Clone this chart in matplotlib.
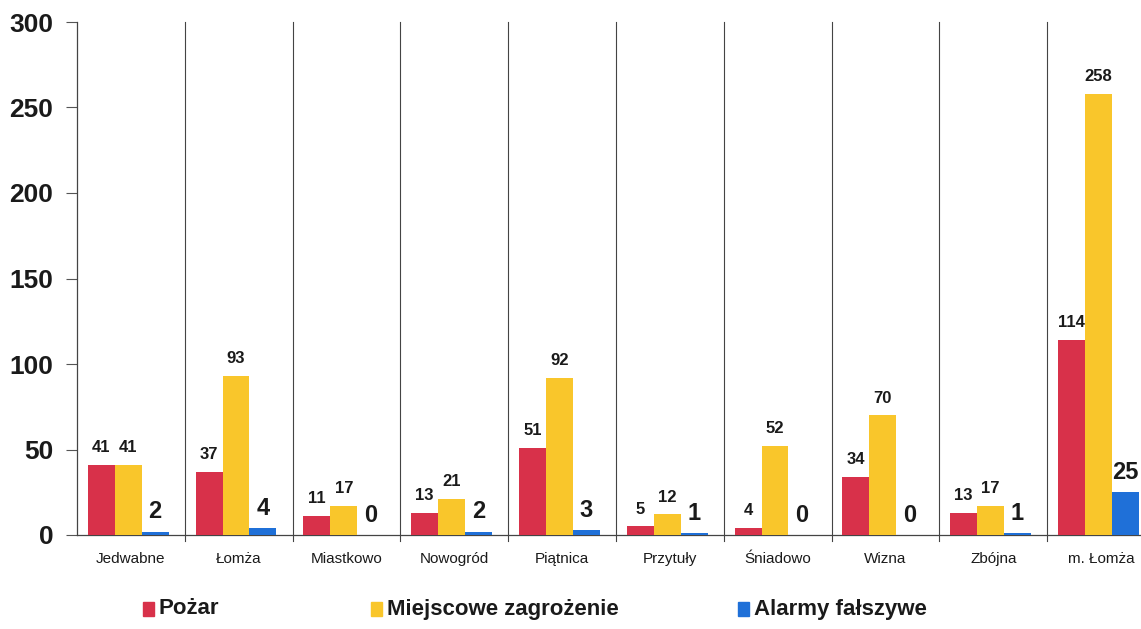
import matplotlib
matplotlib.use("Agg")
import matplotlib.pyplot as plt
import numpy as np

categories = ["Jedwabne", "Łomża", "Miastkowo", "Nowogród", "Piątnica",
              "Przytuły", "Śniadowo", "Wizna", "Zbójna", "m. Łomża"]
pozar = [41, 37, 11, 13, 51, 5, 4, 34, 13, 114]
miejscowe = [41, 93, 17, 21, 92, 12, 52, 70, 17, 258]
alarmy = [2, 4, 0, 2, 3, 1, 0, 0, 1, 25]
series_names = ["Pożar", "Miejscowe zagrożenie", "Alarmy fałszywe"]
yticks = [0, 50, 100, 150, 200, 250, 300]

colors = ["#D8314A", "#F9C62B", "#1F70D8"]
FONT = ["Liberation Sans Narrow", "Liberation Sans", "DejaVu Sans"]
plt.rcParams["font.family"] = FONT

W, H = 1141, 629
fig = plt.figure(figsize=(W / 100, H / 100), dpi=100)
ax = fig.add_axes([77 / W, (H - 535) / H, 1078 / W, 513 / H])

n = len(categories)
x = np.arange(n)
bw = 0.25
start = 0.1
series = [pozar, miejscowe, alarmy]
for k, (vals, col) in enumerate(zip(series, colors)):
    xs = x + start + k * bw
    ax.bar(xs, vals, width=bw, align="edge", color=col, edgecolor="none", zorder=3)
    for xi, v in zip(xs, vals):
        fs = 17 if k == 2 else 12
        off = 6 if k == 2 else 7
        ax.annotate(str(v), (xi + bw / 2, v), xytext=(0, off), textcoords="offset points",
                    ha="center", va="bottom", fontsize=fs, fontweight="bold", color="#1a1a1a")

ax.set_xlim(0, n)
ax.set_ylim(0, 300)
ax.set_yticks(yticks)
ax.set_yticklabels([str(t) for t in yticks], fontsize=19, fontweight="bold", color="#1a1a1a")
ax.tick_params(axis="y", length=8, width=0.8, color="#555555", pad=9)
ax.set_xticks(x + 0.5)
ax.set_xticklabels(categories, fontsize=11, color="#1a1a1a")
ax.tick_params(axis="x", length=0, pad=12)

for s in ["top", "right"]:
    ax.spines[s].set_visible(False)
ax.spines["left"].set_color("#444444")
ax.spines["left"].set_linewidth(0.9)
ax.spines["bottom"].set_color("#444444")
ax.spines["bottom"].set_linewidth(0.9)

for d in range(1, n + 1):
    ax.axvline(d, ymin=-0.012, ymax=1.0, color="#444444", linewidth=0.8, zorder=1, clip_on=False)

xs_leg = [143, 371, 738]
for h_x, name, col in zip(xs_leg, series_names, colors):
    fig.patches.append(plt.Rectangle((h_x / W, (H - 616) / H), 11 / W, 14 / H,
                                     transform=fig.transFigure, color=col))
    fig.text((h_x + 16) / W, (H - 609) / H, name, fontsize=16, fontweight="bold",
             va="center", ha="left", color="#1a1a1a")

fig.savefig("out.png", dpi=100)
